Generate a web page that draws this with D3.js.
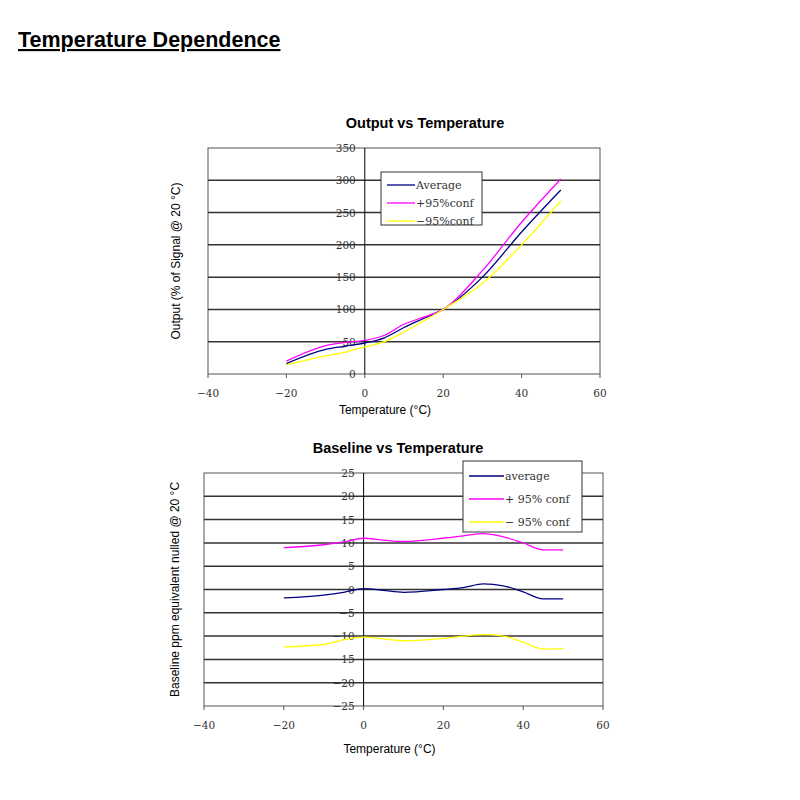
<!DOCTYPE html><html><head><meta charset="utf-8"><script src="https://cdn.jsdelivr.net/npm/d3@7"></script>
<style>body{margin:0;background:#fff}</style></head><body><svg id="s" width="800" height="800"></svg>
<script>
const outX=[-20,-10,-5,0,5,10,15,20,30,40,50];
const outAvg=[16,38,43,48,56,72,86,100,150,220,285];
const outPlus=[20,44,49,52,60,77,88,100,160,235,302];
const outMinus=[14,28,34,42,50,65,82,100,140,200,268];
const baseX=[-20,-10,-5,0,5,10,20,25,30,35,40,45,50];
const baseAvg=[-1.8,-1.2,-0.6,0.2,-0.2,-0.6,0,0.4,1.2,0.8,-0.5,-2,-2];
const basePlus=[9,9.6,10.2,11,10.6,10.3,11,11.5,12,11.3,10,8.5,8.5];
const baseMinus=[-12.3,-11.8,-10.8,-10.2,-10.6,-11,-10.5,-10,-9.7,-10,-11.3,-12.8,-12.7];
const xTicks=[-40,-20,0,20,40,60];
const outTicks=[0,50,100,150,200,250,300,350];
const baseTicks=[25,20,15,10,5,0,-5,-10,-15,-20,-25];
const svg=d3.select("#s");
svg.append("text").attr("x",18).attr("y",47).attr("font-family","Liberation Sans").attr("font-weight","bold").attr("font-size",21.5).attr("text-decoration","underline").text("Temperature Dependence");
function chart(o){
 const x=d3.scaleLinear().domain([-40,60]).range([o.x0,o.x1]);
 const y=d3.scaleLinear().domain(o.yd).range([o.y1,o.y0]);
 const g=svg.append("g");
 g.append("rect").attr("x",o.x0).attr("y",o.y0).attr("width",o.x1-o.x0).attr("height",o.y1-o.y0).attr("fill","none").attr("stroke","#555");
 o.ticks.forEach(t=>{ if(t!==o.yd[0]&&t!==o.yd[1]) g.append("line").attr("x1",o.x0).attr("x2",o.x1).attr("y1",y(t)).attr("y2",y(t)).attr("stroke","#333").attr("stroke-width",1.5);});
 g.append("line").attr("x1",x(0)).attr("x2",x(0)).attr("y1",o.y0).attr("y2",o.y1).attr("stroke","#000");
 const ff="DejaVu Serif, serif";
 o.ticks.forEach(t=>g.append("text").attr("x",x(0)-9).attr("y",y(t)+4).attr("text-anchor","end").attr("font-family",ff).attr("font-size",10.5).attr("fill","#333").text(t<0?"\u2212"+(-t):t));
 xTicks.forEach(t=>{g.append("text").attr("x",x(t)).attr("y",o.y1+23).attr("text-anchor","middle").attr("font-family",ff).attr("font-size",10.5).attr("fill","#333").text(t<0?"\u2212"+(-t):t);
  g.append("line").attr("x1",x(t)).attr("x2",x(t)).attr("y1",o.y1).attr("y2",o.y1+4).attr("stroke","#555");});
 const ln=d3.line().x((d,i)=>x(o.xs[i])).y(d=>y(d)).curve(d3.curveMonotoneX);
 o.series.forEach(s=>g.append("path").attr("d",ln(s.v)).attr("fill","none").attr("stroke",s.c).attr("stroke-width",1.3));
 g.append("text").attr("x",o.tx).attr("y",o.y0-20).attr("text-anchor","middle").attr("font-family","Liberation Sans").attr("font-weight","bold").attr("font-size",14.5).text(o.title);
 g.append("text").attr("x",(o.x0+o.x1)/2+(o.xlo||0)).attr("y",o.y1+44+(o.xly||0)).attr("text-anchor","middle").attr("font-family","Liberation Sans").attr("font-size",12).text("Temperature (\u00B0C)");
 g.append("text").attr("transform",`translate(${o.yx},${(o.y0+o.y1)/2}) rotate(-90)`).attr("text-anchor","middle").attr("font-family","Liberation Sans").attr("font-size",12).text(o.ylab);
 const L=o.leg;
 g.append("rect").attr("x",L.x).attr("y",L.y).attr("width",L.w).attr("height",L.h).attr("fill","#fff").attr("stroke","#333");
 o.series.forEach((s,i)=>{const yy=L.y+L.p+i*L.dy;
  g.append("line").attr("x1",L.x+6).attr("x2",L.x+6+L.lw).attr("y1",yy-4).attr("y2",yy-4).attr("stroke",s.c).attr("stroke-width",1.3);
  g.append("text").attr("x",L.x+L.tx).attr("y",yy).attr("font-family",ff).attr("font-size",11).attr("fill","#333").text(s.n);});
}
chart({x0:208,x1:600,y0:148,y1:374,yd:[0,350],ticks:outTicks,xs:outX,title:"Output vs Temperature",tx:425,ylab:"Output (% of Signal @ 20 \u00B0C)",yx:180,
 series:[{n:"Average",v:outAvg,c:"#000080"},{n:" +95%conf",v:outPlus,c:"#ff00ff"},{n:"\u221295%conf",v:outMinus,c:"#ffff00"}],
 leg:{x:381,y:172,w:101,h:53,p:17,dy:18,lw:28,tx:35},xlo:-19,xly:-4});
chart({x0:204,x1:603,y0:473,y1:706,yd:[-25,25],ticks:baseTicks,xs:baseX,title:"Baseline vs Temperature",tx:398,ylab:"Baseline ppm equivalent nulled  @ 20 \u00B0C",yx:179,
 series:[{n:"average",v:baseAvg,c:"#000080"},{n:" + 95% conf",v:basePlus,c:"#ff00ff"},{n:" \u2212 95% conf",v:baseMinus,c:"#ffff00"}],
 leg:{x:463,y:461,w:119,h:71,p:19,dy:23,lw:35,tx:42},xlo:-14,xly:3});
</script></body></html>
